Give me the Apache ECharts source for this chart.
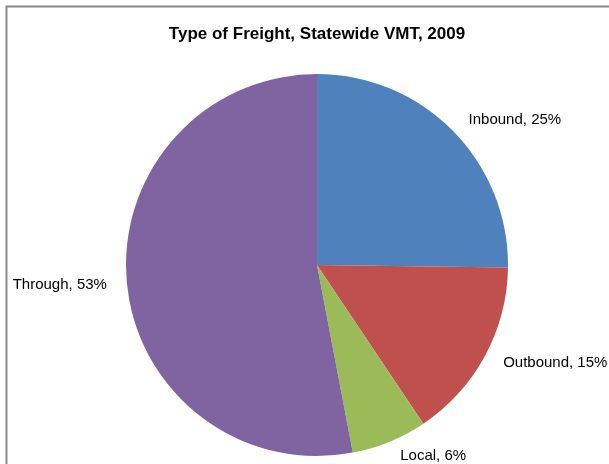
<!DOCTYPE html>
<html>
<head>
<meta charset="utf-8">
<script src="https://cdn.jsdelivr.net/npm/echarts@6/dist/echarts.min.js"></script>
<style>
  html, body { margin: 0; padding: 0; background: #ffffff; }
  #chart { width: 609px; height: 464px; }
</style>
</head>
<body>
<div id="chart"></div>
<script>
// Freight share of statewide vehicle miles travelled (percent)
const categories = ['Inbound', 'Outbound', 'Local', 'Through'];
const shares = [25.2, 15.4, 6.4, 53.0];
const sliceColors = ['#4F81BD', '#C0504D', '#9BBB59', '#8064A2'];

const chart = echarts.init(document.getElementById('chart'), null, { renderer: 'canvas' });

const pieData = categories.map((name, i) => ({
  name: name,
  value: shares[i],
  itemStyle: { color: sliceColors[i] }
}));

chart.setOption({
  animation: false,
  backgroundColor: '#ffffff',
  title: {
    text: 'Type of Freight, Statewide VMT, 2009',
    left: 312,
    textAlign: 'center',
    top: 21,
    textStyle: {
      fontFamily: 'Liberation Sans, Arial, sans-serif',
      fontSize: 17,
      fontWeight: 'bold',
      color: '#000000'
    }
  },
  graphic: [{
    type: 'rect',
    silent: true,
    shape: { x: 6.5, y: 6.5, width: 700, height: 600 },
    style: { fill: null, stroke: '#8a8a8a', lineWidth: 2 }
  }],
  series: [{
    type: 'pie',
    center: [317, 265],
    radius: 191,
    startAngle: 90,
    clockwise: true,
    avoidLabelOverlap: false,
    data: pieData,
    label: {
      show: true,
      position: 'outside',
      fontFamily: 'Liberation Sans, Arial, sans-serif',
      fontSize: 15,
      color: '#000000',
      formatter: p => p.name + ', ' + Math.round(p.value) + '%'
    },
    labelLine: { show: false, length: 15, length2: 0 },
    emphasis: { disabled: true }
  }]
});
</script>
</body>
</html>
